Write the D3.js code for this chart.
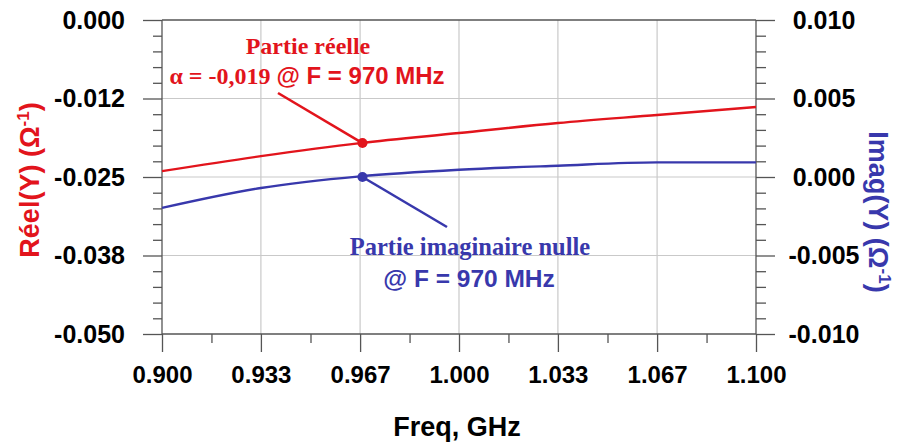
<!DOCTYPE html>
<html><head><meta charset="utf-8">
<script src="https://cdn.jsdelivr.net/npm/d3@7"></script>
<style>body{margin:0;background:#fff}svg{display:block}</style>
</head><body>
<svg id="c" width="908" height="445"></svg>
<script>
// ---- data ----
const freq = [0.900, 0.9333, 0.9667, 1.000, 1.0333, 1.0667, 1.100];
const realY = [-0.02407, -0.02168, -0.01960, -0.01800, -0.01641, -0.01513, -0.01385];
const imagY = [-0.00197, -0.00070, 0.00004, 0.00046, 0.00072, 0.00093, 0.00093];
const xTicks = [0.900, 0.9333, 0.9667, 1.000, 1.0333, 1.0667, 1.100];
const xTickLabels = ["0.900", "0.933", "0.967", "1.000", "1.033", "1.067", "1.100"];
const leftTicks = [0, -0.0125, -0.025, -0.0375, -0.05];
const leftTickLabels = ["0.000", "-0.012", "-0.025", "-0.038", "-0.050"];
const rightTicks = [0.01, 0.005, 0, -0.005, -0.01];
const rightTickLabels = ["0.010", "0.005", "0.000", "-0.005", "-0.010"];
const markerFreq = [0.9675];
const markerReal = [-0.0196];
const markerImag = [0.0];

const RED = "#e2141c", BLUE = "#3838ac", AX = "#555";
const svg = d3.select("#c");
const L = 162, R = 756, T = 20, B = 334;
const x = d3.scaleLinear().domain([0.9, 1.1]).range([L, R]);
const yL = d3.scaleLinear().domain([-0.05, 0]).range([B, T]);
const yR = d3.scaleLinear().domain([-0.01, 0.01]).range([B, T]);

// grid
const g = svg.append("g");
g.selectAll("line.gx").data(xTicks.slice(1, -1)).join("line")
  .attr("x1", d => x(d)).attr("x2", d => x(d)).attr("y1", T).attr("y2", B)
  .attr("stroke", "#c9c9c9").attr("stroke-width", 1.2);
g.selectAll("line.gy").data(leftTicks.slice(1, -1)).join("line")
  .attr("x1", L).attr("x2", R).attr("y1", d => yL(d)).attr("y2", d => yL(d))
  .attr("stroke", "#c9c9c9").attr("stroke-width", 1.2);

// minor ticks
const minorL = d3.range(0, 21).map(i => -0.0025 * i).filter(v => leftTicks.every(t => Math.abs(t - v) > 1e-9));
const minorR = d3.range(-10, 11).map(i => 0.001 * i).filter(v => rightTicks.every(t => Math.abs(t - v) > 1e-9));
const minorX = xTicks.slice(0, -1).map((d, i) => (d + xTicks[i + 1]) / 2);

const sans = "Liberation Sans, Arial, sans-serif", serif = "Liberation Serif, Times New Roman, serif";
const axAttr = sel => sel.attr("stroke", AX).attr("stroke-width", 1.3);
const lbl = s => s.attr("font-family", sans).attr("font-weight", "bold").attr("font-size", 25).attr("fill", "#000");
// left axis
svg.append("g").attr("transform", `translate(${L},0)`)
  .call(d3.axisLeft(yL).tickValues(minorL).tickSize(9).tickFormat(""))
  .call(s => { s.select(".domain").remove(); s.selectAll("line").call(axAttr); });
svg.append("g").attr("transform", `translate(${L},0)`)
  .call(d3.axisLeft(yL).tickValues(leftTicks).tickSize(19).tickPadding(18).tickFormat((d, i) => leftTickLabels[i]))
  .call(s => { s.select(".domain").remove(); s.selectAll("line").call(axAttr); s.selectAll("text").call(lbl); });
// right axis
svg.append("g").attr("transform", `translate(${R},0)`)
  .call(d3.axisRight(yR).tickValues(minorR).tickSize(10).tickFormat(""))
  .call(s => { s.select(".domain").remove(); s.selectAll("line").call(axAttr); });
svg.append("g").attr("transform", `translate(${R},0)`)
  .call(d3.axisRight(yR).tickValues(rightTicks).tickSize(19).tickPadding(49).tickFormat((d, i) => rightTickLabels[i]))
  .call(s => { s.select(".domain").remove(); s.selectAll("line").call(axAttr);
    s.selectAll("text").attr("text-anchor", "middle").call(lbl); });
// bottom axis
svg.append("g").attr("transform", `translate(0,${B})`)
  .call(d3.axisBottom(x).tickValues(minorX).tickSize(9).tickFormat(""))
  .call(s => { s.select(".domain").remove(); s.selectAll("line").call(axAttr); });
svg.append("g").attr("transform", `translate(0,${B})`)
  .call(d3.axisBottom(x).tickValues(xTicks).tickSize(18).tickPadding(14).tickFormat((d, i) => xTickLabels[i]))
  .call(s => { s.select(".domain").remove(); s.selectAll("line").call(axAttr);
    s.selectAll("text").call(lbl).attr("font-size", 24); });

// frame lines
svg.append("line").attr("x1", L).attr("x2", L).attr("y1", T).attr("y2", B).call(axAttr);
svg.append("line").attr("x1", R).attr("x2", R).attr("y1", T).attr("y2", B).call(axAttr);
svg.append("line").attr("x1", L).attr("x2", R).attr("y1", T).attr("y2", T).call(axAttr);
svg.append("line").attr("x1", L).attr("x2", R).attr("y1", B).attr("y2", B).call(axAttr);

// curves
const lineR = d3.line().x((d, i) => x(freq[i])).y(d => yL(d)).curve(d3.curveMonotoneX);
const lineI = d3.line().x((d, i) => x(freq[i])).y(d => yR(d)).curve(d3.curveMonotoneX);
svg.append("path").attr("d", lineR(realY)).attr("fill", "none").attr("stroke", RED).attr("stroke-width", 2.4);
svg.append("path").attr("d", lineI(imagY)).attr("fill", "none").attr("stroke", BLUE).attr("stroke-width", 2.4);

// markers and leaders
const mxr = x(markerFreq[0]), myr = yL(markerReal[0]), myi = yR(markerImag[0]);
svg.append("line").attr("x1", 278).attr("y1", 93).attr("x2", mxr).attr("y2", myr).attr("stroke", RED).attr("stroke-width", 2.6);
svg.append("line").attr("x1", mxr).attr("y1", myi).attr("x2", 447).attr("y2", 227).attr("stroke", BLUE).attr("stroke-width", 2.6);
svg.append("circle").attr("cx", mxr).attr("cy", myr).attr("r", 5).attr("fill", RED);
svg.append("circle").attr("cx", mxr).attr("cy", myi).attr("r", 5).attr("fill", BLUE);

// annotations
svg.append("text").attr("x", 308).attr("y", 54).attr("text-anchor", "middle")
  .attr("font-family", serif).attr("font-weight", "bold").attr("font-size", 24).attr("fill", RED).text("Partie réelle");
const t2 = svg.append("text").attr("x", 307).attr("y", 84).attr("text-anchor", "middle").attr("font-weight", "bold").attr("font-size", 24).attr("fill", RED);
t2.append("tspan").attr("font-family", serif).text("α = -0,019 ");
t2.append("tspan").attr("font-family", sans).text("@ F = 970 MHz");
svg.append("text").attr("x", 470).attr("y", 255).attr("text-anchor", "middle")
  .attr("font-family", serif).attr("font-weight", "bold").attr("font-size", 24.5).attr("fill", BLUE).text("Partie imaginaire nulle");
svg.append("text").attr("x", 469).attr("y", 287).attr("text-anchor", "middle")
  .attr("font-family", sans).attr("font-weight", "bold").attr("font-size", 24.5).attr("fill", BLUE).text("@ F = 970 MHz");

// axis titles
svg.append("text").attr("x", 457).attr("y", 436).attr("text-anchor", "middle")
  .attr("font-family", sans).attr("font-weight", "bold").attr("font-size", 27).attr("fill", "#000").text("Freq, GHz");
const lt = svg.append("text").attr("transform", "translate(39,180) rotate(-90)").attr("text-anchor", "middle")
  .attr("font-family", sans).attr("font-weight", "bold").attr("font-size", 27).attr("fill", RED);
lt.append("tspan").text("Réel(Y)  (Ω");
lt.append("tspan").attr("font-size", 17).attr("dy", -10).text("-1");
lt.append("tspan").attr("dy", 10).text(")");
const rt = svg.append("text").attr("transform", "translate(869,212) rotate(90)").attr("text-anchor", "middle")
  .attr("font-family", sans).attr("font-weight", "bold").attr("font-size", 27).attr("fill", BLUE);
rt.append("tspan").text("Imag(Y) (Ω");
rt.append("tspan").attr("font-size", 17).attr("dy", -10).text("-1");
rt.append("tspan").attr("dy", 10).text(")");
</script>
</body></html>
